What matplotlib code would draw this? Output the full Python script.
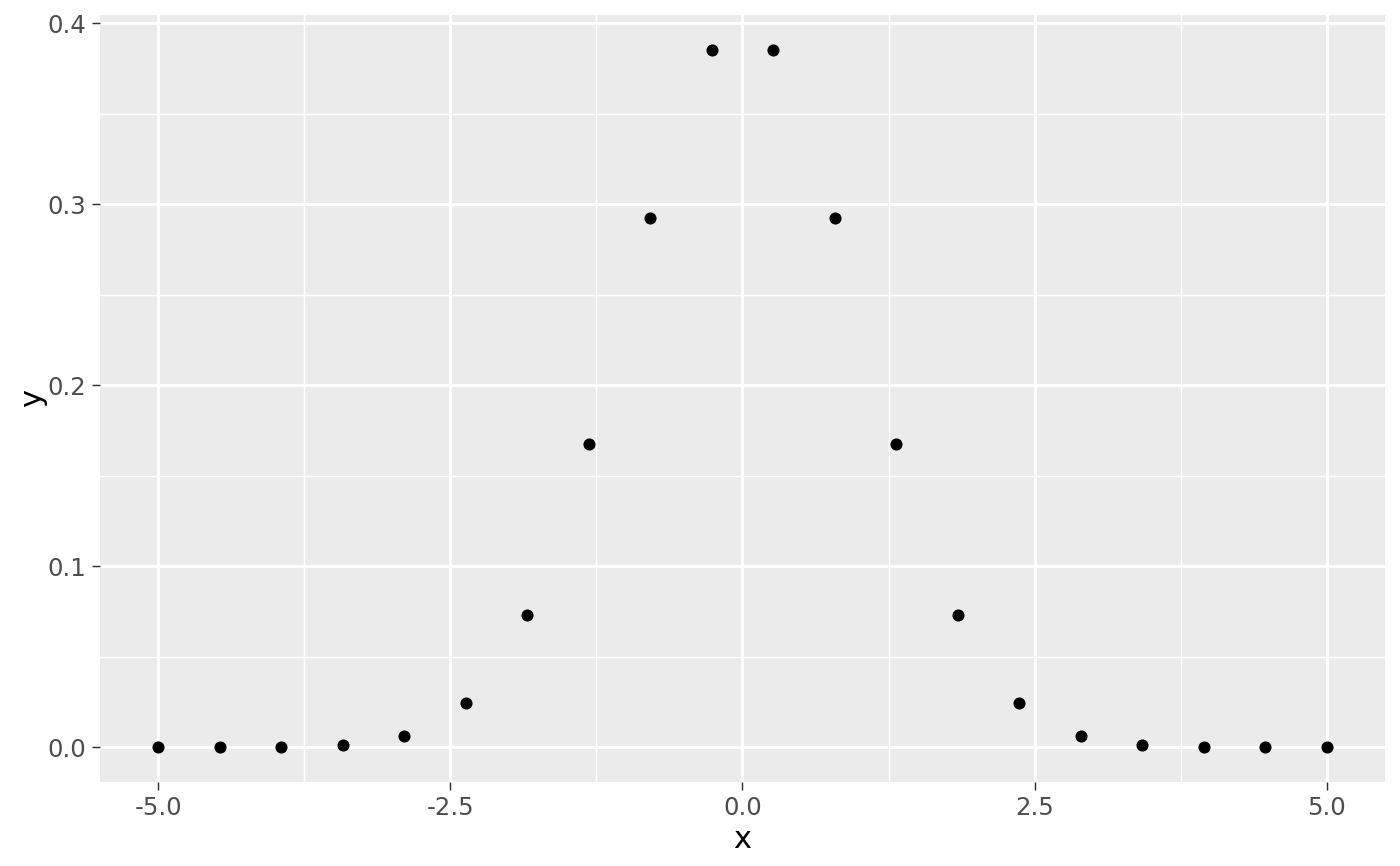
import numpy as np
import matplotlib
matplotlib.use("Agg")
import matplotlib.pyplot as plt
from matplotlib.ticker import FixedLocator

# points (20 evenly spaced x values, bell-shaped y)
x_vals = [-5.0, -4.474, -3.947, -3.421, -2.895, -2.368, -1.842, -1.316, -0.789, -0.263,
          0.263, 0.789, 1.316, 1.842, 2.368, 2.895, 3.421, 3.947, 4.474, 5.0]
y_vals = [0.0000015, 0.0000178, 0.000166, 0.00115, 0.00603, 0.0242, 0.0733, 0.1678, 0.2922, 0.3854,
          0.3854, 0.2922, 0.1678, 0.0733, 0.0242, 0.00603, 0.00115, 0.000166, 0.0000178, 0.0000015]
x_ticks = [-5.0, -2.5, 0.0, 2.5, 5.0]
y_ticks = [0.0, 0.1, 0.2, 0.3, 0.4]

fig = plt.figure(figsize=(7, 4.33), dpi=200)
ax = fig.add_axes([0.0714, 0.097, 0.9179, 0.8857])
ax.set_facecolor("#EBEBEB")
for s in ax.spines.values():
    s.set_visible(False)

ax.scatter(x_vals, y_vals, s=19, color="black", linewidths=0, zorder=3)

# ggplot-like 5% expansion
xr = max(x_vals) - min(x_vals)
yr = max(y_vals) - min(y_vals)
ax.set_xlim(min(x_vals) - 0.05 * xr, max(x_vals) + 0.05 * xr)
ax.set_ylim(min(y_vals) - 0.05 * yr, max(y_vals) + 0.05 * yr)

ax.set_xticks(x_ticks)
ax.set_xticklabels([f"{v:.1f}" for v in x_ticks])
ax.set_yticks(y_ticks)
ax.set_yticklabels([f"{v:.1f}" for v in y_ticks])
ax.xaxis.set_minor_locator(FixedLocator([-3.75, -1.25, 1.25, 3.75]))
ax.yaxis.set_minor_locator(FixedLocator([0.05, 0.15, 0.25, 0.35]))

ax.grid(which="major", color="white", linewidth=1.07, zorder=0)
ax.grid(which="minor", color="white", linewidth=0.53, zorder=0)
ax.set_axisbelow(True)

ax.tick_params(which="major", length=2.75, width=0.53, color="#333333",
               labelsize=8.8, labelcolor="#4D4D4D", pad=2.2)
ax.tick_params(which="minor", length=0)

ax.set_xlabel("x", fontsize=11, color="black", labelpad=2)
ax.set_ylabel("y", fontsize=11, color="black", labelpad=0)

fig.savefig("out.png", dpi=200)
